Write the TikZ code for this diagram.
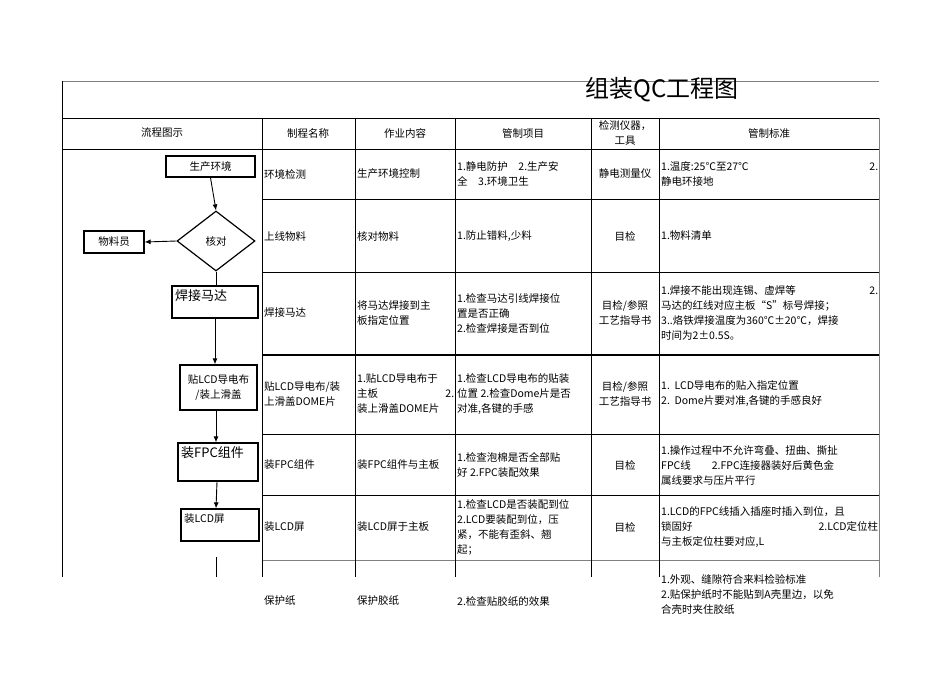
\documentclass[tikz,border=0pt]{standalone}
\usepackage{fontspec}
\setmainfont{Noto Sans CJK SC}
\usetikzlibrary{shapes.geometric,arrows.meta}
\begin{document}
\begin{tikzpicture}[x=1pt,y=-1pt,
  every node/.style={inner sep=0pt,font=\fontsize{10.5}{15}\selectfont},
  grid/.style={line width=1pt},
  fbox/.style={draw,line width=1.2pt,minimum height=20pt},
  arr/.style={-{Latex[length=6pt,width=5pt]},line width=0.9pt},
  cell/.style={anchor=west,align=left},
  ctr/.style={align=center}]
\useasboundingbox (0,0) rectangle (950,672);
% grid
\draw[grid,gray] (62,81) -- (879,81);
\draw[grid] (62,577) -- (62,81);
\draw[grid] (62,118) -- (879,118);
\draw[grid] (62,149) -- (879,149);
\foreach \y in {199,272,434,495}{\draw[grid] (262,\y) -- (879,\y);}
\draw[line width=2pt] (262,355) -- (879,355);
\draw[grid,gray] (262,560) -- (879,560);
\foreach \x in {262,355,455,591,659}{\draw[grid] (\x,118) -- (\x,577);}
\draw[grid,gray] (879,118) -- (879,577);
\node (title) at (662,90) {\fontsize{24}{24}\selectfont 组装QC工程图};
% header
\node (h1) at (162,133) {流程图示};
\node (h2) at (308,133) {制程名称};
\node (h3) at (405,133) {作业内容};
\node (h4) at (523,133) {管制项目};
\node[ctr] (h5) at (625,133) {检测仪器，\\工具};
\node (h6) at (769,133) {管制标准};
% row 1
\node[cell] (a1) at (264,174) {环境检测};
\node[cell] (b1) at (357,174) {生产环境控制};
\node[cell,text width=132pt] (c1) at (457,174) {1.静电防护\quad 2.生产安\\全\quad 3.环境卫生};
\node (d1) at (625,174) {静电测量仪};
\node[cell,text width=217pt] (e1) at (661,174) {1.温度:25℃至27℃\hfill 2.\\静电环接地};
% row 2
\node[cell] (a2) at (264,236) {上线物料};
\node[cell] (b2) at (357,236) {核对物料};
\node[cell] (c2) at (457,236) {1.防止错料,少料};
\node (d2) at (625,236) {目检};
\node[cell] (e2) at (661,236) {1.物料清单};
% row 3
\node[cell] (a3) at (264,313) {焊接马达};
\node[cell] (b3) at (357,313) {将马达焊接到主\\板指定位置};
\node[cell] (c3) at (457,313) {1.检查马达引线焊接位\\置是否正确\\2.检查焊接是否到位};
\node[ctr] (d3) at (625,313) {目检/参照\\工艺指导书};
\node[cell,text width=217pt] (e3) at (661,313) {1.焊接不能出现连锡、虚焊等\hfill 2.\\马达的红线对应主板“S”标号焊接；\\3..烙铁焊接温度为360℃±20℃，焊接\\时间为2±0.5S。};
% row 4
\node[cell] (a4) at (264,394) {贴LCD导电布/装\\上滑盖DOME片};
\node[cell,text width=97pt] (b4) at (357,394) {1.贴LCD导电布于\\主板\hfill 2.\\装上滑盖DOME片};
\node[cell] (c4) at (457,394) {1.检查LCD导电布的贴装\\位置 2.检查Dome片是否\\对准,各键的手感};
\node[ctr] (d4) at (625,394) {目检/参照\\工艺指导书};
\node[cell] (e4) at (661,394) {1.\ \ LCD导电布的贴入指定位置\\2.\ \ Dome片要对准,各键的手感良好};
% row 5
\node[cell] (a5) at (264,465) {装FPC组件};
\node[cell] (b5) at (357,465) {装FPC组件与主板};
\node[cell] (c5) at (457,465) {1.检查泡棉是否全部贴\\好 2.FPC装配效果};
\node (d5) at (625,465) {目检};
\node[cell,text width=217pt] (e5) at (661,465) {1.操作过程中不允许弯叠、扭曲、撕扯\\FPC线\qquad 2.FPC连接器装好后黄色金\\属线要求与压片平行};
% row 6
\node[cell] (a6) at (264,527) {装LCD屏};
\node[cell] (b6) at (357,527) {装LCD屏于主板};
\node[cell] (c6) at (457,527) {1.检查LCD是否装配到位\\2.LCD要装配到位，压\\紧，不能有歪斜、翘\\起；};
\node (d6) at (625,527) {目检};
\node[cell,text width=217pt] (e6) at (661,527) {1.LCD的FPC线插入插座时插入到位，且\\锁固好\hfill 2.LCD定位柱\\与主板定位柱要对应,L};
% row 7 (below cut)
\node[cell] (a7) at (264,601) {保护纸};
\node[cell] (b7) at (357,601) {保护胶纸};
\node[cell] (c7) at (457,601) {2.检查贴胶纸的效果};
\node[cell] (e7) at (661,594) {1.外观、缝隙符合来料检验标准\\2.贴保护纸时不能贴到A壳里边，以免\\合壳时夹住胶纸};
% flowchart
\node[fbox,minimum width=89pt,minimum height=21pt] (env) at (210.5,166.5) {生产环境};
\node[draw,line width=1.2pt,diamond,minimum width=78pt,minimum height=60pt,aspect=1.3] (chk) at (216,241) {核对};
\node[fbox,minimum width=60pt,minimum height=22pt] (wl) at (114,242) {物料员};
\node[fbox,minimum width=86pt,minimum height=32pt] (hj) at (215,302) {};
\node[anchor=north west,font=\fontsize{13}{15}\selectfont] (hjt) at (175,289) {焊接马达};
\node[fbox,minimum width=77pt,minimum height=45pt,align=center] (tl) at (218.5,387.5) {贴LCD导电布\\/装上滑盖};
\node[fbox,minimum width=80pt,minimum height=38pt] (fpc) at (218,462) {};
\node[anchor=north west,font=\fontsize{13}{15}\selectfont] (fpct) at (181,446) {装FPC组件};
\node[fbox,minimum width=78pt,minimum height=32pt] (lcd) at (220,525) {};
\node[anchor=north west] (lcdt) at (184,513) {装LCD屏};
\coordinate (e1s) at (216,557);
\coordinate (e1e) at (216,577);
\draw[arr] (env.south) -- (chk.north);
\draw[arr] (chk.west) -- (wl.east);
\draw[line width=0.9pt] (chk.south) -- (hj.north -| chk.south);
\draw[arr] (hj.south) -- (tl.north -| hj.south);
\draw[arr] (tl.south -| 216,0) -- (fpc.north -| 216,0);
\draw[arr] (fpc.south -| 217,0) -- (lcd.north -| 216,0);
\draw[line width=0.9pt] (e1s) -- (e1e);
\end{tikzpicture}
\end{document}
